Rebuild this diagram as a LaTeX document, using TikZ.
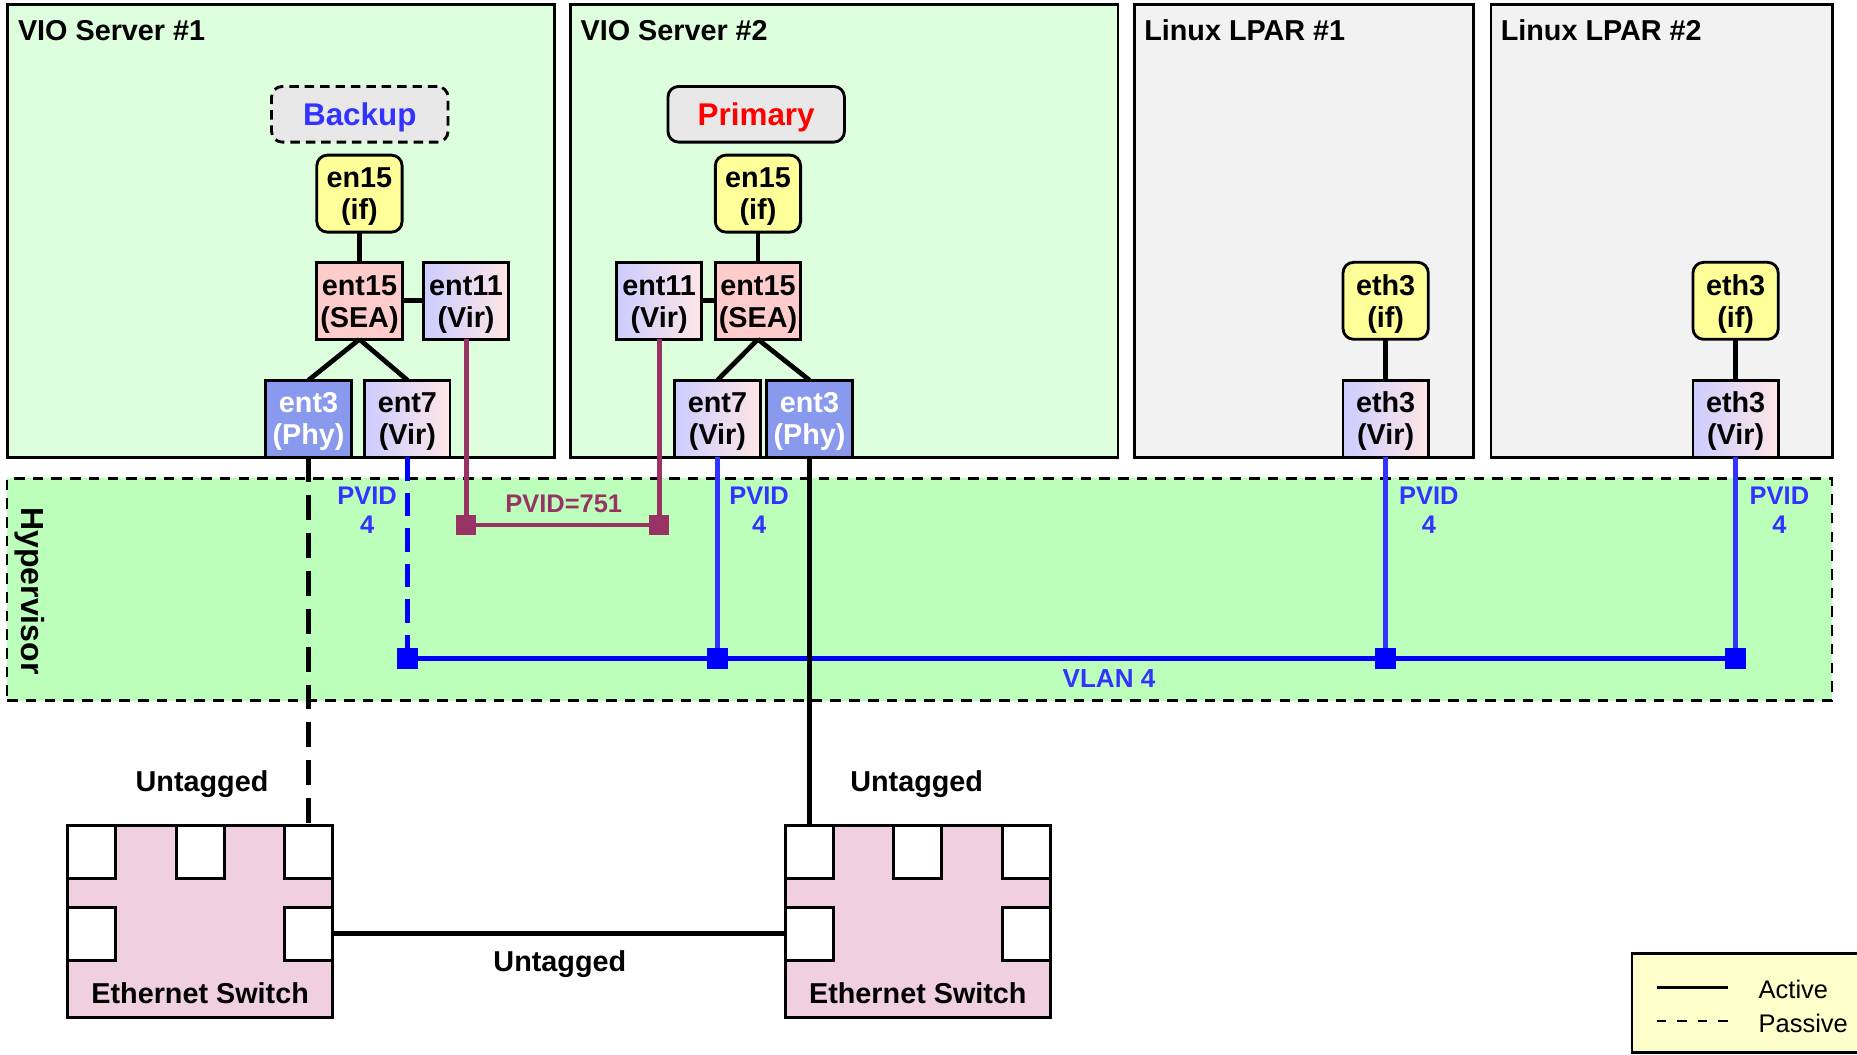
\documentclass[tikz,border=0pt]{standalone}
\usepackage{fontspec}
\setmainfont{Liberation Sans}
\definecolor{vioFill}{HTML}{DDFFDD}
\definecolor{lparFill}{HTML}{F2F2F2}
\definecolor{hypFill}{HTML}{BBFFBB}
\definecolor{roleFill}{HTML}{E8E8E8}
\definecolor{ifFill}{HTML}{FFFF99}
\definecolor{seaFill}{HTML}{FFCCCC}
\definecolor{virL}{HTML}{CCCCFF}
\definecolor{virR}{HTML}{FFE6E6}
\definecolor{phyFill}{HTML}{8899EE}
\definecolor{vlanBlue}{HTML}{3333FF}
\definecolor{busBlue}{HTML}{0000FF}
\definecolor{pvidMaroon}{HTML}{993366}
\definecolor{switchFill}{HTML}{F0D0E0}
\definecolor{legendFill}{HTML}{FFFFCC}
% two-line device label, first line strutted so the text block sits centred
\newcommand{\twoline}[2]{\rule{0pt}{22.3pt}#1\\#2}
\tikzset{
  panelbox/.style={draw=black, line width=2.4pt, anchor=north west, inner sep=0pt, outer sep=0pt},
  viobox/.style={panelbox, fill=vioFill},
  lparbox/.style={panelbox, fill=lparFill},
  hypbox/.style={draw=black, line width=2pt, dash pattern=on 9pt off 6.8pt, fill=hypFill,
    anchor=north west, inner sep=0pt, outer sep=0pt},
  paneltitle/.style={anchor=base west, inner sep=0pt, font=\fontsize{24.3}{28}\selectfont\bfseries},
  devbase/.style={draw=black, line width=2.4pt, minimum width=72pt, minimum height=65pt,
    inner sep=0pt, outer sep=0pt, align=center, font=\fontsize{24.3}{27}\selectfont\bfseries},
  ifbox/.style={devbase, rounded corners=9pt, fill=ifFill},
  seabox/.style={devbase, fill=seaFill},
  virbox/.style={devbase, left color=virL, right color=virR},
  phybox/.style={devbase, fill=phyFill, text=white},
  rolebox/.style={draw=black, line width=2.4pt, rounded corners=9pt, fill=roleFill,
    minimum width=149pt, minimum height=47pt, inner sep=0pt, outer sep=0pt,
    text height=19pt, text depth=0pt, font=\fontsize{26.5}{30}\selectfont\bfseries},
  link/.style={draw=black, line width=4pt},
  vlanline/.style={draw=vlanBlue, line width=3.8pt},
  vlandash/.style={draw=busBlue, line width=4.6pt, dash pattern=on 20pt off 10pt},
  busline/.style={draw=busBlue, line width=5pt},
  pvidline/.style={draw=pvidMaroon, line width=4.2pt},
  uplink/.style={draw=black, line width=3.6pt},
  uplinkdash/.style={draw=black, line width=3.6pt, dash pattern=on 21pt off 11pt},
  swlink/.style={draw=black, line width=4.3pt},
  bluesq/.style={fill=busBlue, minimum size=17.5pt, inner sep=0pt, outer sep=0pt},
  maroonsq/.style={fill=pvidMaroon, minimum size=17.5pt, inner sep=0pt, outer sep=0pt},
  pvidlbl/.style={text=vlanBlue, align=center, inner sep=0pt, font=\fontsize{21.5}{24}\selectfont\bfseries},
  switchbody/.style={draw=black, line width=2.4pt, fill=switchFill, minimum width=223.5pt,
    minimum height=162pt, inner sep=0pt, outer sep=0pt},
  port/.style={draw=black, line width=2.4pt, fill=white, minimum width=40.5pt,
    minimum height=45pt, inner sep=0pt, outer sep=0pt},
  boldlbl/.style={inner sep=0pt, font=\fontsize{24.3}{28}\selectfont\bfseries},
  legendbox/.style={draw=black, line width=2.5pt, fill=legendFill, inner sep=0pt, outer sep=0pt},
  legendtxt/.style={anchor=base west, inner sep=0pt, font=\fontsize{21.5}{24}\selectfont},
}
\begin{document}
\begin{tikzpicture}[x=1pt,y=-1pt]
\useasboundingbox (0,0) rectangle (1568,890);
\fill[white] (0,0) rectangle (1568,890);

% partitions
\node[viobox, minimum width=462pt, minimum height=382pt] (vio1) at (6,4) {};
\node[viobox, minimum width=462pt, minimum height=382pt] (vio2) at (482,4) {};
\node[lparbox, minimum width=286pt, minimum height=382pt] (lpar1) at (958,4) {};
\node[lparbox, minimum width=288pt, minimum height=382pt] (lpar2) at (1259,4) {};
\node[hypbox, minimum width=1541pt, minimum height=187.6pt] (hyp) at (6,404) {};

\node[paneltitle] (vio1t) at (15,34) {VIO Server \#1};
\node[paneltitle] (vio2t) at (490,34) {VIO Server \#2};
\node[paneltitle] (lpar1t) at (966,34) {Linux LPAR \#1};
\node[paneltitle] (lpar2t) at (1267,34) {Linux LPAR \#2};
\node[rotate=-90, inner sep=0pt, font=\fontsize{27}{30}\selectfont\bfseries] (hypt) at (25.5,499) {Hypervisor};

% VIO Server #1
\node[rolebox, dash pattern=on 8pt off 5pt, text=vlanBlue] (backup) at (303.8,96.5) {Backup};
\node[ifbox] (en15a) at (303.5,163.5) {\twoline{en15}{(if)}};
\node[seabox] (ent15a) at (303.5,254) {\twoline{ent15}{(SEA)}};
\node[virbox] (ent11a) at (393.5,254) {\twoline{ent11}{(Vir)}};
\node[phybox] (ent3a) at (260.5,353.5) {\twoline{ent3}{(Phy)}};
\node[virbox] (ent7a) at (344,353.5) {\twoline{ent7}{(Vir)}};

% VIO Server #2
\node[rolebox, text=red] (primary) at (638.5,96.5) {Primary};
\node[ifbox] (en15b) at (640,163.5) {\twoline{en15}{(if)}};
\node[seabox] (ent15b) at (640,254) {\twoline{ent15}{(SEA)}};
\node[virbox] (ent11b) at (556.5,254) {\twoline{ent11}{(Vir)}};
\node[virbox] (ent7b) at (605.8,353.5) {\twoline{ent7}{(Vir)}};
\node[phybox] (ent3b) at (683.5,353.5) {\twoline{ent3}{(Phy)}};

% Linux LPARs
\node[ifbox] (eth3ifa) at (1170,254) {\twoline{eth3}{(if)}};
\node[virbox] (eth3va) at (1170,353.5) {\twoline{eth3}{(Vir)}};
\node[ifbox] (eth3ifb) at (1465.5,254) {\twoline{eth3}{(if)}};
\node[virbox] (eth3vb) at (1465.5,353.5) {\twoline{eth3}{(Vir)}};

% links inside the partitions
\draw[link] (en15a) -- (ent15a);
\draw[link] (ent15a.east) -- (ent11a.west);
\draw[link] (ent15a.south) -- (ent3a.north);
\draw[link] (ent15a.south) -- (ent7a.north);
\draw[link] (en15b) -- (ent15b);
\draw[link] (ent11b.east) -- (ent15b.west);
\draw[link] (ent15b.south) -- (ent7b.north);
\draw[link] (ent15b.south) -- (ent3b.north);
\draw[link] (eth3ifa) -- (eth3va);
\draw[link] (eth3ifb) -- (eth3vb);

% hypervisor ports
\node[bluesq] (sqa) at (344,556) {};
\node[bluesq] (sqb) at (605.8,556) {};
\node[bluesq] (sqc) at (1170,556) {};
\node[bluesq] (sqd) at (1465.5,556) {};
\node[maroonsq] (ma) at (393.5,443.3) {};
\node[maroonsq] (mb) at (556.5,443.3) {};

% VLAN 4 and the control channel
\draw[vlandash] (ent7a.south) -- (sqa.north);
\draw[vlanline] (ent7b.south) -- (sqb.north);
\draw[vlanline] (eth3va.south) -- (sqc.north);
\draw[vlanline] (eth3vb.south) -- (sqd.north);
\draw[busline] (sqa.east) -- (sqd.west);
\draw[pvidline] (ent11a.south) -- (ma.north);
\draw[pvidline] (ent11b.south) -- (mb.north);
\draw[pvidline] (ma.east) -- (mb.west);

\node[pvidlbl] (pv1) at (310,431) {PVID\\4};
\node[pvidlbl] (pv2) at (641,431) {PVID\\4};
\node[pvidlbl] (pv3) at (1206.5,431) {PVID\\4};
\node[pvidlbl] (pv4) at (1502.5,431) {PVID\\4};
\node[pvidlbl, text=pvidMaroon] (pv751) at (476,425.7) {PVID=751};
\node[pvidlbl, font=\fontsize{22}{24}\selectfont\bfseries] (vlan) at (936.4,573) {VLAN 4};

% Ethernet switches
\node[switchbody] (sw1) at (169,778) {};
\node[port, anchor=north west] (s1p1) at (sw1.north west) {};
\node[port, anchor=north] (s1p2) at (sw1.north) {};
\node[port, anchor=north east] (s1p3) at (sw1.north east) {};
\node[port, anchor=north west] (s1p4) at ([yshift=-69pt]sw1.north west) {};
\node[port, anchor=north east] (s1p5) at ([yshift=-69pt]sw1.north east) {};
\node[boldlbl, anchor=base] (sw1lbl) at ([yshift=11.7pt]sw1.south) {Ethernet Switch};

\node[switchbody] (sw2) at (775,778) {};
\node[port, anchor=north west] (s2p1) at (sw2.north west) {};
\node[port, anchor=north] (s2p2) at (sw2.north) {};
\node[port, anchor=north east] (s2p3) at (sw2.north east) {};
\node[port, anchor=north west] (s2p4) at ([yshift=-69pt]sw2.north west) {};
\node[port, anchor=north east] (s2p5) at ([yshift=-69pt]sw2.north east) {};
\node[boldlbl, anchor=base] (sw2lbl) at ([yshift=11.7pt]sw2.south) {Ethernet Switch};

% uplinks
\draw[uplinkdash] (ent3a.south) -- (s1p3.north);
\draw[uplink] (ent3b.south) -- (s2p1.north);
\draw[swlink] (s1p5.east) -- (s2p4.west);

\node[boldlbl, anchor=base] (ut1) at (170.6,668) {Untagged};
\node[boldlbl, anchor=base] (ut2) at (774,668) {Untagged};
\node[boldlbl, anchor=base] (ut3) at (472.7,820.5) {Untagged};

% legend
\begin{scope}
\clip (0,0) rectangle (1568,890);
\node[legendbox, anchor=north west, minimum width=210pt, minimum height=83.5pt] (legend) at (1378,805) {};
\end{scope}
\coordinate (actA) at (1399,834);
\coordinate (actB) at (1459,834);
\coordinate (pasA) at (1399,862);
\coordinate (pasB) at (1459,862);
\draw[line width=2.3pt] (actA) -- (actB);
\draw[line width=2.3pt, dash pattern=on 8pt off 9.3pt] (pasA) -- (pasB);
\node[legendtxt] (acttxt) at (1484.8,843) {Active};
\node[legendtxt] (pastxt) at (1484.8,871.8) {Passive};
\end{tikzpicture}
\end{document}
